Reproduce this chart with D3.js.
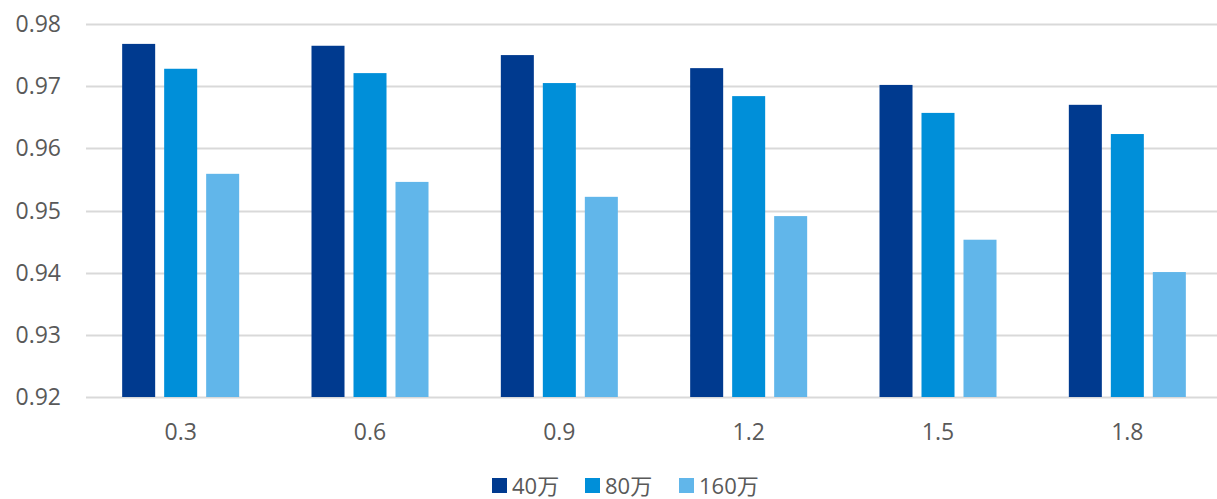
<!DOCTYPE html>
<html>
<head>
<meta charset="utf-8">
<script src="https://cdn.jsdelivr.net/npm/d3@7"></script>
<style>
    body { margin: 0; background: #fff; }
    text { font-family: "Open Sans", "Noto Sans CJK SC", sans-serif; fill: #595959; }
</style>
</head>
<body>
<div id="chart"></div>
<script>
(function (d3) {
    'use strict';

    // Chart data
    var categories = ['0.3', '0.6', '0.9', '1.2', '1.5', '1.8'];
    var seriesNames = ['40万', '80万', '160万'];
    var s40 = [0.9768, 0.9765, 0.9750, 0.9729, 0.9702, 0.9670];
    var s80 = [0.9728, 0.9721, 0.9705, 0.9684, 0.9657, 0.9623];
    var s160 = [0.9559, 0.9546, 0.9522, 0.9491, 0.9453, 0.9401];
    var yTicks = [0.92, 0.93, 0.94, 0.95, 0.96, 0.97, 0.98];

    var colors = ['#003A8F', '#008FD9', '#61B6EA'];
    var series = [s40, s80, s160];

    var width = 1217,
        height = 499,
        left = 86,
        right = 1222,
        top = 24,
        bottom = 397;

    var svg = d3.select('#chart')
        .append('svg')
        .attr('width', width)
        .attr('height', height);

    var y = d3.scaleLinear()
        .domain([0.92, 0.98])
        .range([bottom, top]);

    var x0 = d3.scaleBand()
        .domain(categories)
        .range([left, right])
        .paddingInner(0.382)
        .paddingOuter(0.191);

    var x1 = d3.scaleBand()
        .domain(seriesNames)
        .range([0, x0.bandwidth()])
        .paddingInner(0.214);

    // Gridlines
    svg.selectAll('line.grid')
        .data(yTicks)
        .enter()
        .append('line')
        .attr('class', 'grid')
        .attr('x1', left)
        .attr('x2', width)
        .attr('y1', function(d) { return Math.round(y(d)) + 0.5; })
        .attr('y2', function(d) { return Math.round(y(d)) + 0.5; })
        .attr('stroke', '#D9D9D9')
        .attr('stroke-width', 2);

    // Y tick labels
    svg.selectAll('text.ylab')
        .data(yTicks)
        .enter()
        .append('text')
        .attr('class', 'ylab')
        .attr('x', 61)
        .attr('y', function(d) { return y(d); })
        .attr('dy', '0.35em')
        .attr('text-anchor', 'end')
        .style('font-size', '23px')
        .text(function(d) { return d3.format('.2f')(d); });

    // Bars
    var groups = svg.selectAll('g.group')
        .data(categories)
        .enter()
        .append('g')
        .attr('class', 'group')
        .attr('transform', function(d) { return 'translate(' + x0(d) + ',0)'; });

    groups.selectAll('rect')
        .data(function(d, i) {
            return seriesNames.map(function(name, k) {
                return { name: name, value: series[k][i], color: colors[k] };
            });
        })
        .enter()
        .append('rect')
        .attr('x', function(d) { return x1(d.name); })
        .attr('width', x1.bandwidth())
        .attr('y', function(d) { return y(d.value); })
        .attr('height', function(d) { return bottom - y(d.value); })
        .attr('fill', function(d) { return d.color; });

    // X labels
    svg.selectAll('text.xlab')
        .data(categories)
        .enter()
        .append('text')
        .attr('class', 'xlab')
        .attr('x', function(d) { return x0(d) + x0.bandwidth() / 2; })
        .attr('y', 440)
        .attr('text-anchor', 'middle')
        .style('font-size', '23px')
        .text(function(d) { return d; });

    // Legend
    var legendX = [492, 585, 679];
    var legend = svg.selectAll('g.legend')
        .data(seriesNames)
        .enter()
        .append('g')
        .attr('class', 'legend')
        .attr('transform', function(d, i) { return 'translate(' + legendX[i] + ',477)'; });

    legend.append('rect')
        .attr('y', 1)
        .attr('width', 15)
        .attr('height', 15)
        .attr('fill', function(d, i) { return colors[i]; });

    legend.append('text')
        .attr('x', 20)
        .attr('y', 9)
        .attr('dy', '0.35em')
        .style('font-size', '22px')
        .text(function(d) { return d; });

})(d3);
</script>
</body>
</html>
